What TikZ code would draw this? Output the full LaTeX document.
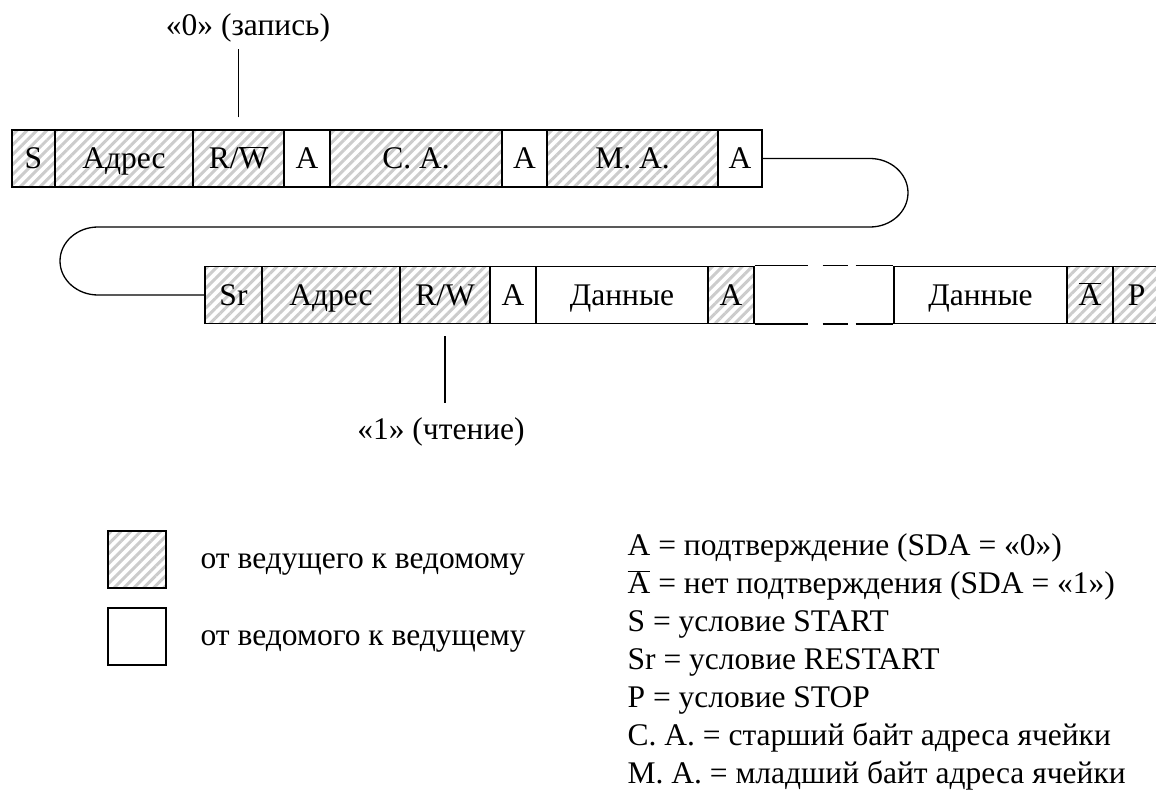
\documentclass[tikz,border=0pt]{standalone}
\usepackage{fontspec}
\setmainfont{Liberation Serif}
\usetikzlibrary{patterns.meta}
\begin{document}
\begin{tikzpicture}[x=1pt,y=-1pt, line width=1.3pt,
  fld/.style={draw, rectangle, inner sep=0pt, minimum height=57pt,
    text height=21pt, text depth=0pt, font=\fontsize{31.5}{36}\selectfont},
  hat/.style={fld, pattern={Lines[angle=45,distance=7pt,line width=3pt]}, pattern color=gray!40},
  txt/.style={font=\fontsize{31.5}{36}\selectfont, inner sep=0pt},
  ]
\useasboundingbox (0,0) rectangle (1156,791);

% top row
\node[hat, minimum width=43pt]  (s1)   at (33.5,158.5) {S};
\node[hat, minimum width=138pt] (adr1) at (124,158.5) {Адрес};
\node[hat, minimum width=91pt]  (rw1)  at (238.5,158.5) {R/$\overline{\mbox{W}}$};
\node[fld, minimum width=46pt]  (a1)   at (307,158.5) {A};
\node[hat, minimum width=172pt] (ca)   at (416,158.5) {C. A.};
\node[fld, minimum width=45pt]  (a2)   at (524.5,158.5) {A};
\node[hat, minimum width=171pt] (ma)   at (632.5,158.5) {M. A.};
\node[fld, minimum width=44pt]  (a3)   at (740,158.5) {A};

% bottom row
\node[hat, minimum width=57pt]  (sr)   at (233.5,295) {Sr};
\node[hat, minimum width=138pt] (adr2) at (331,295) {Адрес};
\node[hat, minimum width=90pt]  (rw2)  at (445,295) {R/W};
\node[fld, minimum width=46pt]  (a4)   at (513,295) {A};
\node[fld, minimum width=172pt] (d1)   at (622,295) {Данные};
\node[hat, minimum width=46pt]  (a5)   at (731,295) {A};
\node[fld, minimum width=173pt] (d2)   at (980.5,295) {Данные};
\node[hat, minimum width=46pt]  (na)   at (1090,295) {$\overline{\mbox{A}}$};
\node[hat, minimum width=47pt]  (p)    at (1136.5,295) {P};

% broken part
\draw[dash pattern=on 53pt off 15pt on 25pt off 8pt on 60pt] (a5.north east) -- (d2.north west);
\draw[dash pattern=on 53pt off 15pt on 25pt off 8pt on 60pt] (a5.south east) -- (d2.south west);

% loop connector
\coordinate (r1) at (870,158.5);
\coordinate (l1) at (98,227);
\draw (a3.east) -- (r1) arc[start angle=90, end angle=-90, x radius=38pt, y radius=34.25pt]
      -- (l1) arc[start angle=90, end angle=270, x radius=38pt, y radius=34pt] -- (sr.west);

% annotations
\node[txt, anchor=base] (lab0) at (248,36) {«0» (запись)};
\draw ([yshift=12pt]rw1.north) -- ([yshift=80pt]rw1.north);
\node[txt, anchor=base] (lab1) at (441,439) {«1» (чтение)};
\draw ([yshift=-12pt]rw2.south) -- ([yshift=-79pt]rw2.south);

% legend left
\node[hat, minimum width=58pt] (lh) at (137,559.5) {};
\node[fld, minimum width=58pt] (lw) at (137,636.5) {};
\node[txt, anchor=base west] (lt1) at (200,568) {от ведущего к ведомому};
\node[txt, anchor=base west] (lt2) at (200,645) {от ведомого к ведущему};

% legend right
\node[txt, anchor=base west] (k1) at (627,555) {A = подтверждение (SDA = «0»)};
\node[txt, anchor=base west] (k2) at (627,593) {$\overline{\mbox{A}}$ = нет подтверждения (SDA = «1»)};
\node[txt, anchor=base west] (k3) at (627,631) {S = условие START};
\node[txt, anchor=base west] (k4) at (627,669) {Sr = условие RESTART};
\node[txt, anchor=base west] (k5) at (627,707) {P = условие STOP};
\node[txt, anchor=base west] (k6) at (627,745) {С. А. = старший байт адреса ячейки};
\node[txt, anchor=base west] (k7) at (627,783) {М. А. = младший байт адреса ячейки};
\end{tikzpicture}
\end{document}
